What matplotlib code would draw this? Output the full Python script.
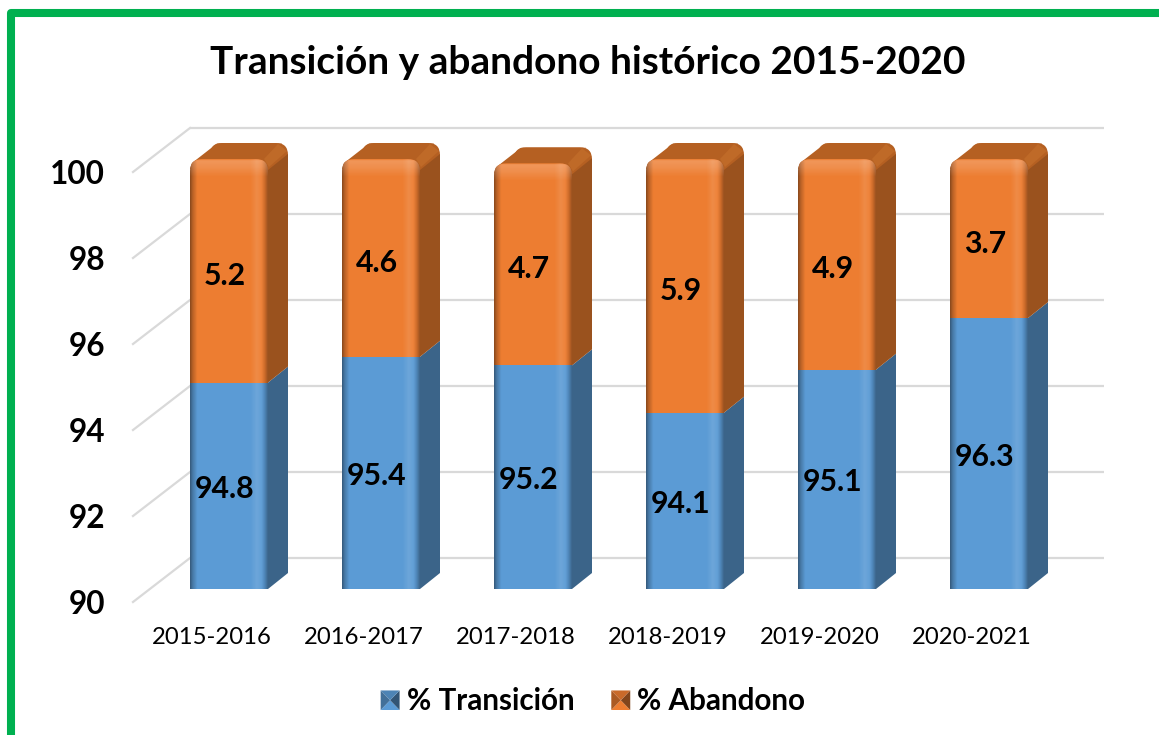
import numpy as np
import matplotlib
matplotlib.use("Agg")
import matplotlib.pyplot as plt
from matplotlib.lines import Line2D
from matplotlib.patches import FancyBboxPatch, Polygon
from matplotlib.legend_handler import HandlerPatch
from matplotlib.transforms import IdentityTransform

plt.rcParams['font.family'] = ['Lato', 'DejaVu Sans']

# Data
title = "Transición y abandono histórico 2015-2020"
periods = ["2015-2016", "2016-2017", "2017-2018", "2018-2019", "2019-2020", "2020-2021"]
transicion = [94.8, 95.4, 95.2, 94.1, 95.1, 96.3]
abandono = [5.2, 4.6, 4.7, 5.9, 4.9, 3.7]
y_ticks = [90, 92, 94, 96, 98, 100]
series_names = ["% Transición", "% Abandono"]

# Layout, in picture pixels
W, H = 1159, 735
X0, STEP = 229, 152
Y0, UNIT = 589, 43
BAR_W = 78
SIDE_X, SIDE_Y = 20, 16

BLUE = "#5b9bd5"
BLUE_SIDE = "#3b6489"
ORANGE = "#ed7d31"
ORANGE_SIDE = "#9a521e"
ORANGE_TOP = "#b56022"
GRID = "#d9d9d9"
GREEN = "#00b050"

fig = plt.figure(figsize=(W / 100, H / 100), dpi=100)
ax = fig.add_axes([0, 0, 1, 1])
xlim = (-X0 / STEP, (W - X0) / STEP)
ylim = (90 - (H - Y0) / UNIT, 90 + Y0 / UNIT)
ax.axis("off")

# units of one pixel in data space
dx = 1 / STEP
dy = 1 / UNIT
sx = SIDE_X * dx
sy = SIDE_Y * dy

# Gridlines on the back wall and the side wall
for v in y_ticks:
    back = v + 31 * dy
    front = v - 13 * dy
    ax.plot([-39 * dx, (1104 - X0) * dx], [back, back], color=GRID, lw=1.6, zorder=1, solid_capstyle="butt")
    ax.plot([-96 * dx, -39 * dx], [front, back], color=GRID, lw=1.6, zorder=1)
    ax.text(-124 * dx, front - 2.5 * dy, str(v), ha="right", va="center", fontsize=22.7, fontweight="bold",
            color="black")


def side_fill(x, y0, y1, color, zorder):
    right = x + BAR_W * dx / 2
    ax.add_patch(Polygon([(right, y0), (right + sx, y0 + sy), (right + sx, y1 + sy), (right, y1)],
                         closed=True, fc=color, ec="none", zorder=zorder))


def shade_bar(x, total, clip):
    # horizontal bevel over the front face
    pos = [0, 0.03, 0.09, 0.78, 0.86, 0.92, 0.96, 1]
    dark = [0.40, 0.22, 0, 0, 0, 0, 0.12, 0.32]
    light = [0, 0, 0, 0, 0.11, 0.05, 0, 0]
    t = np.linspace(0, 1, 80)
    a_dark = np.interp(t, pos, dark)
    a_light = np.interp(t, pos, light)
    rgba = np.zeros((1, 80, 4))
    rgba[0, :, :3] = (a_light / np.maximum(a_light + a_dark, 1e-6))[:, None]
    rgba[0, :, 3] = a_light + a_dark
    half = BAR_W * dx / 2
    im = ax.imshow(rgba, extent=(x - half, x + half, 90, total), aspect="auto", zorder=6, interpolation="bilinear")
    im.set_clip_path(clip)
    # lighter band under the top edge
    rgba2 = np.ones((30, 1, 4))
    rgba2[:, 0, 3] = np.interp(np.linspace(0, 1, 30), [0, 0.08, 0.45, 1], [0, 0.20, 0.14, 0])
    im2 = ax.imshow(rgba2, extent=(x - half, x + half, total - 18 * dy, total), aspect="auto", zorder=6,
                    interpolation="bilinear")
    im2.set_clip_path(clip)


x_pos = np.arange(len(periods))
bars_t = ax.bar(x_pos, [v - 90 for v in transicion], BAR_W * dx, bottom=90, color=BLUE, zorder=5,
                label=series_names[0])
bars_a = ax.bar(x_pos, abandono, BAR_W * dx, bottom=transicion, color=ORANGE, zorder=5,
                label=series_names[1])

for i, x in enumerate(x_pos):
    mid = transicion[i]
    total = transicion[i] + abandono[i]
    half = BAR_W * dx / 2

    # rounded top shared by the front face and its clip, bottom runs past the bar
    clip = FancyBboxPatch((x - half, 90 - 20 * dy), 2 * half, total - 90 + 20 * dy,
                          boxstyle="round,pad=0,rounding_size=%f" % (12 * dx),
                          mutation_aspect=STEP / UNIT, transform=ax.transData, fc="none", ec="none")
    bars_t[i].set_clip_path(clip)
    bars_a[i].set_clip_path(clip)

    # back silhouette of the top and side
    ax.add_patch(FancyBboxPatch((x - half + sx, total - 40 * dy + sy), 2 * half, 40 * dy,
                                boxstyle="round,pad=0,rounding_size=%f" % (12 * dx),
                                mutation_aspect=STEP / UNIT, fc=ORANGE_TOP, ec="none", zorder=3))
    ax.add_patch(Polygon([(x - half, total - 10 * dy), (x - half + 2 * dx, total - 4 * dy),
                          (x - half + sx + 7 * dx, total + sy - 0.5 * dy),
                          (x + half + sx - 6 * dx, total + sy - 0.5 * dy), (x + half, total - 8 * dy)],
                         closed=True, fc=ORANGE_TOP, ec="none", zorder=3))
    side_fill(x, 90, mid, BLUE_SIDE, 4)
    side_fill(x, mid, total - 11 * dy, ORANGE_SIDE, 4)
    # small lighter corner on the top right
    ax.add_patch(Polygon([(x + half - 4 * dx, total), (x + half + sx - 10 * dx, total + sy - 1 * dy),
                          (x + half + sx - 1 * dx, total + sy - 8 * dy), (x + half + 1 * dx, total - 8 * dy)],
                         closed=True, fc="#bf6a28", ec="none", zorder=4))
    shade_bar(x, total, clip)

    # value labels
    ax.text(x - 4 * dx, (90 + mid) / 2 - 3 * dy, "%.1f" % transicion[i], ha="center", va="center",
            fontsize=21.8, fontweight="bold", color="black", zorder=8)
    ax.text(x - 4 * dx, (mid + total) / 2 - 5 * dy, "%.1f" % abandono[i], ha="center", va="center",
            fontsize=21.8, fontweight="bold", color="black", zorder=8)
    ax.text(x - 17 * dx, 90 - 48.5 * dy, periods[i], ha="center", va="center", fontsize=17.2, color="black")

ax.set_xlim(xlim)
ax.set_ylim(ylim)

ax.text(588 / W, 1 - 63 / H, title, transform=ax.transAxes, ha="center", va="center", fontsize=28,
        fontweight="bold", color="black")


# Bevelled square used as the legend key
class BevelHandler(HandlerPatch):
    def create_artists(self, legend, orig_handle, xdescent, ydescent, width, height, fontsize, trans):
        base = orig_handle.get_facecolor()
        w = width
        h = height
        cx, cy = w / 2, h / 2
        corners = [(0, 0), (w, 0), (w, h), (0, h)]
        faces = [1.0, 0.55, 0.85, 0.72]
        out = []
        for k in range(4):
            col = tuple(min(1, c * faces[k]) for c in base[:3])
            out.append(Polygon([corners[k], corners[(k + 1) % 4], (cx, cy)], closed=True, fc=col, ec="none",
                               transform=trans))
        return out


leg = ax.legend(handles=[bars_t[0], bars_a[0]], labels=series_names, ncol=2, frameon=False,
                loc="center", bbox_to_anchor=(593 / W, 1 - 701 / H),
                prop={"weight": "bold", "size": 21.3}, handlelength=0.64, handleheight=0.64, handletextpad=0.24,
                columnspacing=1.25, handler_map={bars_t[0].__class__: BevelHandler()})

# Green frame, open on the right and the bottom
fig.add_artist(Line2D([11, 11, W + 10], [-10, H - 13, H - 13], color=GREEN, lw=5.8, transform=IdentityTransform(),
                      solid_joinstyle="round", solid_capstyle="butt"))

fig.savefig("out.png", dpi=100, facecolor="white")
